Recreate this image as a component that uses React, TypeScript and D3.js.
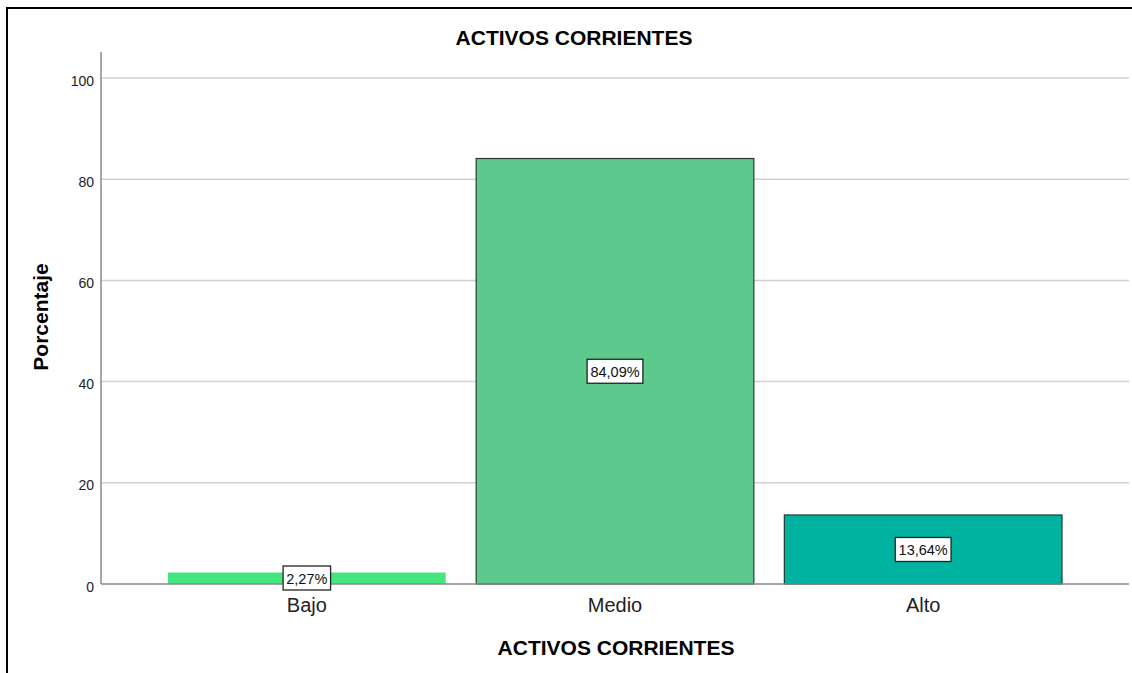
import React from "react";
import * as d3 from "d3";

const categories = ["Bajo", "Medio", "Alto"];
const values = [2.27, 84.09, 13.64];
const labels = ["2,27%", "84,09%", "13,64%"];
const colors = ["#43E67F", "#5EC98C", "#00B3A1"];
const strokes = ["none", "#2b3a30", "#1d3a36"];
const yTicks = [0, 20, 40, 60, 80, 100];

const W = 1132;
const H = 673;
const FONT = "'Liberation Sans', Arial, sans-serif";

export default function App() {
  const y = d3.scaleLinear().domain([0, 100]).range([584, 78]);
  const x = d3.scaleBand<string>().domain(categories).range([168, 1062]).paddingInner(0.099).paddingOuter(0);
  const axisX = 101;
  const plotRight = 1129;

  return (
    <svg width={W} height={H} style={{ position: "absolute", left: 0, top: 0, background: "#fff" }} fontFamily={FONT}>
      <rect x={0} y={0} width={W} height={H} fill="#fff" />
      {/* outer frame */}
      <path d={`M7,${H + 5} L7,8 L${W + 5},8`} fill="none" stroke="#000" strokeWidth={2} />
      <text x={574} y={45} textAnchor="middle" fontSize={21} fontWeight="bold" fill="#000">ACTIVOS CORRIENTES</text>

      {/* gridlines */}
      {yTicks.filter((t) => t > 0).map((t) => (
        <line key={t} x1={axisX} x2={plotRight} y1={y(t)} y2={y(t)} stroke="#d0d0d0" strokeWidth={1.5} />
      ))}
      {/* y tick labels */}
      {yTicks.map((t) => (
        <text key={t} x={94} y={y(t) + 7.5} textAnchor="end" fontSize={14} fill="#222">{t}</text>
      ))}
      {/* bars */}
      {categories.map((c, i) => (
        <rect key={c} x={x(c)!} y={y(values[i])} width={x.bandwidth()} height={y(0) - y(values[i])}
          fill={colors[i]} stroke={strokes[i]} strokeWidth={strokes[i] === "none" ? 0 : 1.2} />
      ))}
      {/* axes */}
      <line x1={axisX} x2={axisX} y1={52} y2={y(0)} stroke="#888" strokeWidth={1.5} />
      <line x1={axisX} x2={plotRight} y1={y(0)} y2={y(0)} stroke="#888" strokeWidth={1.5} />

      {/* value labels */}
      {categories.map((c, i) => {
        const cx = x(c)! + x.bandwidth() / 2;
        const cy = i === 0 ? 578 : y(values[i] / 2);
        const w = labels[i].length * 8.3 + 6;
        return (
          <g key={c}>
            <rect x={cx - w / 2} y={cy - 12} width={w} height={24} fill="#fff" stroke="#222" strokeWidth={1.3} />
            <text x={cx} y={cy + 5.5} textAnchor="middle" fontSize={14.5} fill="#111">{labels[i]}</text>
          </g>
        );
      })}

      {/* category labels */}
      {categories.map((c) => (
        <text key={c} x={x(c)! + x.bandwidth() / 2} y={612} textAnchor="middle" fontSize={20} fill="#222">{c}</text>
      ))}

      <text x={616} y={655} textAnchor="middle" fontSize={21} fontWeight="bold" fill="#000">ACTIVOS CORRIENTES</text>
      <text transform="translate(48,317) rotate(-90)" textAnchor="middle" fontSize={21} fontWeight="bold" fill="#000">Porcentaje</text>
    </svg>
  );
}
